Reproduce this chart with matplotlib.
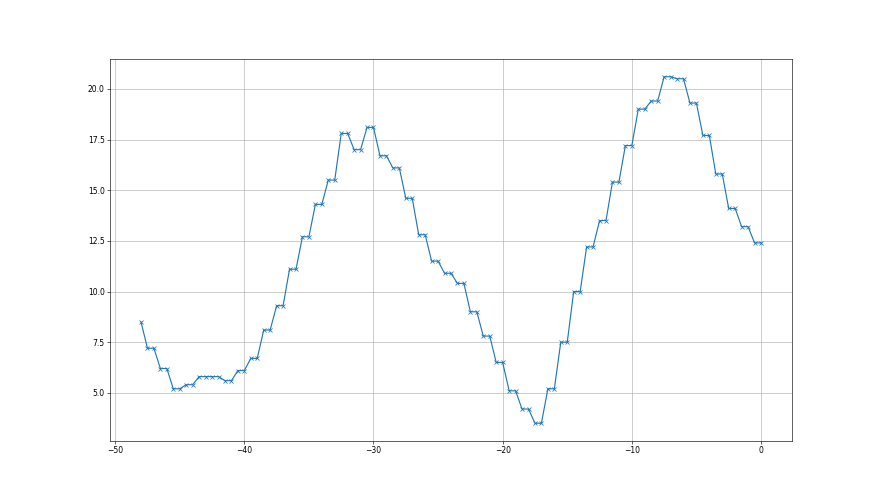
import numpy as np
import matplotlib
matplotlib.use("Agg")
import matplotlib.pyplot as plt

# 首个采样点
first_x = -48.0
first_y = 8.5

# 之后每个数值保持两个半步 (x = -47.5, -47, -46.5, ... , 0)
held_values = [
    7.2, 6.2, 5.2, 5.4, 5.8, 5.8, 5.6, 6.1, 6.7, 8.1,
    9.3, 11.1, 12.7, 14.3, 15.5, 17.8, 17.0, 18.1, 16.7, 16.1,
    14.6, 12.8, 11.5, 10.9, 10.4, 9.0, 7.8, 6.5, 5.1, 4.2,
    3.5, 5.2, 7.5, 10.0, 12.2, 13.5, 15.4, 17.2, 19.0, 19.4,
    20.6, 20.5, 19.3, 17.7, 15.8, 14.1, 13.2, 12.4,
]

xs = [first_x]
ys = [first_y]
for i, v in enumerate(held_values):
    base = first_x + 1 + i
    xs += [base - 0.5, base]
    ys += [v, v]

fig = plt.figure(figsize=(16, 9), dpi=55)
plt.plot(xs, ys, marker="x")
plt.grid()
plt.savefig("out.png")
